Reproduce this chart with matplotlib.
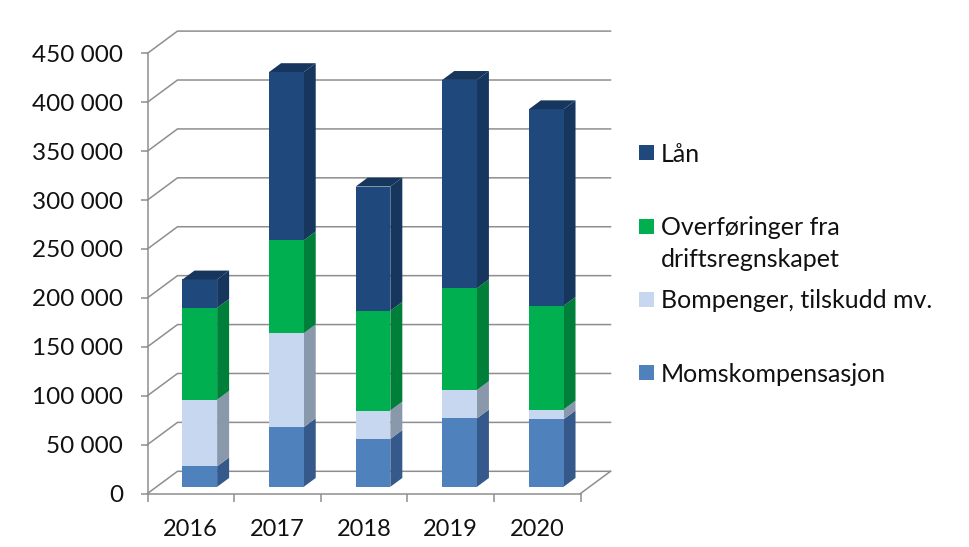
import matplotlib
matplotlib.use("Agg")
import matplotlib.pyplot as plt
from matplotlib.patches import Polygon, Rectangle

plt.rcParams['font.family'] = ['Lato', 'DejaVu Sans']

years = ['2016', '2017', '2018', '2019', '2020']
moms = [21000, 61000, 49000, 70000, 69000]
bom = [68000, 96000, 29000, 29000, 10000]
ovf = [94000, 95000, 102000, 104000, 106000]
lan = [29000, 172000, 127000, 213000, 201000]

series = [moms, bom, ovf, lan]
labels = ['Momskompensasjon', 'Bompenger, tilskudd mv.',
          'Overføringer fra\ndriftsregnskapet', 'Lån']
front_c = ['#4F81BD', '#C6D7EF', '#00B050', '#1F497D']
side_c = ['#35598A', '#8A98AC', '#007F3A', '#17365D']
top_c = ['#35598A', '#9FB0C8', '#00893F', '#17365D']
legend_y = [372.7, 299.5, 226, 152.7]

W, H = 969, 547
fig = plt.figure(figsize=(W / 100, H / 100), dpi=100, facecolor='white')
L, R, T, B = 147.5, 580.5, 53.3, 493.5
ax = fig.add_axes([L / W, 1 - B / H, (R - L) / W, (B - T) / H])
ax.set_xlim(-0.5, 4.5)
ax.set_ylim(0, 450000)

# Oblique depth: one unit of depth moves a point this far in data units
DX = 30.0 / ((R - L) / 5)
DV = 22.2 / ((B - T) / 450000)
GRID = '#8E8E8E'
LW = 1.1
BAR_W, D0, D1 = 0.4, 0.3, 0.7


def proj(x, v, d):
    return (x + d * DX, v + d * DV)


ticks = list(range(0, 450001, 50000))
for v in ticks:
    ax.plot(*zip(proj(-0.5, v, 0), proj(-0.5, v, 1), proj(4.5, v, 1)),
            color=GRID, lw=LW, clip_on=False, zorder=1, solid_joinstyle='miter')
ax.plot(*zip(proj(4.5, 0, 0), proj(4.5, 0, 1)), color=GRID, lw=LW,
        clip_on=False, zorder=1)

for i in range(len(years)):
    base = 0
    for s, vals in enumerate(series):
        top = base + vals[i]
        xl, xr = i - BAR_W / 2, i + BAR_W / 2
        z = 3 + s * 0.1
        ax.add_patch(Polygon([proj(xr, base, D0), proj(xr, base, D1),
                              proj(xr, top, D1), proj(xr, top, D0)],
                             fc=side_c[s], ec='none', clip_on=False, zorder=z))
        ax.add_patch(Polygon([proj(xl, base, D0), proj(xr, base, D0),
                              proj(xr, top, D0), proj(xl, top, D0)],
                             fc=front_c[s], ec='none', clip_on=False, zorder=z))
        if s == len(series) - 1:
            ax.add_patch(Polygon([proj(xl, top, D0), proj(xr, top, D0),
                                  proj(xr, top, D1), proj(xl, top, D1)],
                                 fc=top_c[s], ec='none', clip_on=False, zorder=z))
        base = top

for side in ('top', 'right'):
    ax.spines[side].set_visible(False)
for side in ('left', 'bottom'):
    ax.spines[side].set_color(GRID)
    ax.spines[side].set_linewidth(LW)
ax.patch.set_visible(False)

ax.set_yticks(ticks)
ax.set_yticklabels([f'{v:,}'.replace(',', ' ') for v in ticks])
ax.set_xticks(range(len(years)))
ax.set_xticklabels(years)
ax.set_xticks([i - 0.5 for i in range(len(years) + 1)], minor=True)
ax.tick_params(axis='x', which='major', length=0, pad=18.5, labelsize=17, labelcolor='#111111')
ax.tick_params(axis='x', which='minor', length=6, width=LW, color=GRID)
ax.tick_params(axis='y', length=5.4, width=LW, color=GRID, pad=12, labelsize=17.5, labelcolor='#111111')

for lab, c, y in zip(labels, front_c, legend_y):
    fig.add_artist(Rectangle((638.5 / W, 1 - (y + 7.5) / H), 15 / W, 15 / H,
                             transform=fig.transFigure, fc=c, ec='none'))
    first, *rest = lab.split('\n')
    fig.text(661 / W, 1 - (y + 1.5) / H, first, fontsize=18, va='center', ha='left', color='#111111')
    for k, line in enumerate(rest):
        fig.text(661 / W, 1 - (y + 1.5 + 32 * (k + 1)) / H, line, fontsize=18, va='center',
                 ha='left', color='#111111')

fig.savefig('out.png', dpi=100)
